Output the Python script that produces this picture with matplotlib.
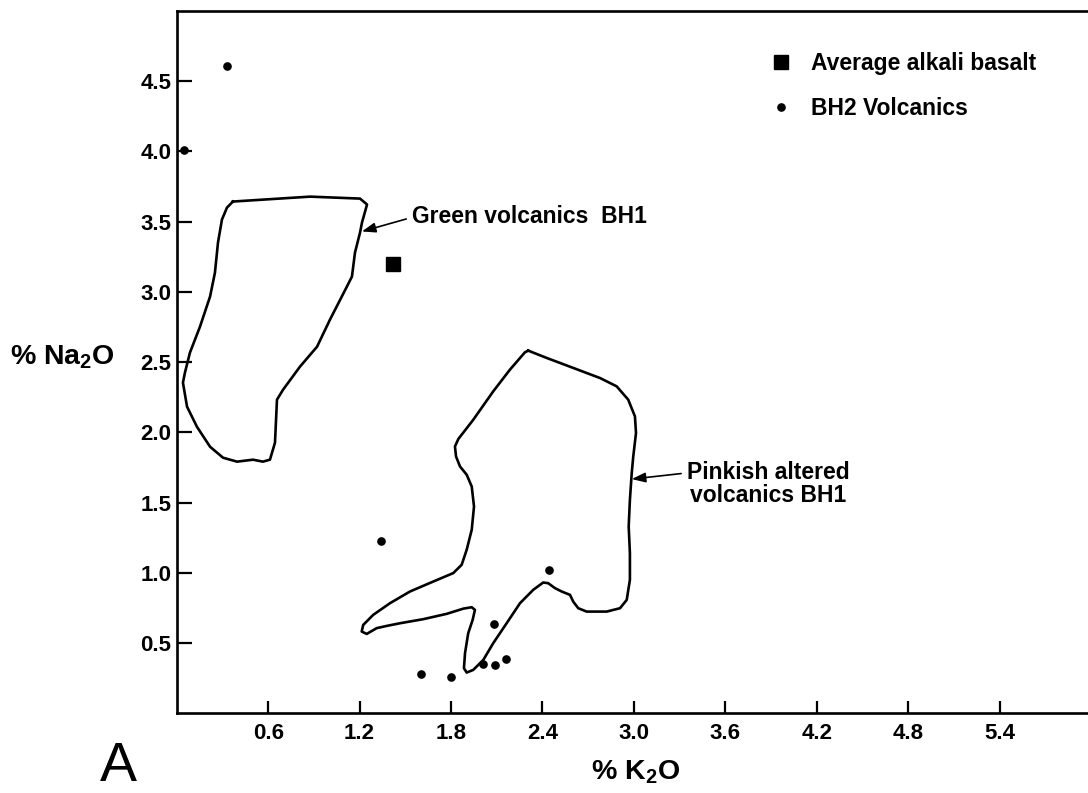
import matplotlib
matplotlib.use("Agg")
import matplotlib.pyplot as plt

plt.rcParams['font.family'] = ['Liberation Sans', 'DejaVu Sans']
plt.rcParams['mathtext.fontset'] = 'custom'
plt.rcParams['mathtext.rm'] = 'Liberation Sans:bold'
plt.rcParams['mathtext.bf'] = 'Liberation Sans:bold'

# data
# average alkali basalt
basalt_k2o = [1.42]
basalt_na2o = [3.20]

# BH2 volcanics
bh2_k2o = [0.33, 0.05, 1.34, 2.445, 2.08, 2.01, 2.09, 2.16, 1.60, 1.80]
bh2_na2o = [4.61, 4.01, 1.23, 1.02, 0.64, 0.35, 0.345, 0.385, 0.28, 0.26]

# outline of green volcanics BH1
green_k2o = [0.369, 0.875, 1.203, 1.249, 1.216, 1.203, 1.170, 1.150, 1.117, 1.006,
             0.921, 0.809, 0.698, 0.658, 0.652, 0.645, 0.612, 0.566, 0.501, 0.396,
             0.304, 0.219, 0.133, 0.068, 0.041, 0.054, 0.087, 0.153, 0.219, 0.251,
             0.271, 0.297, 0.330, 0.369]
green_na2o = [3.643, 3.678, 3.664, 3.622, 3.494, 3.422, 3.280, 3.109, 3.038, 2.803,
              2.610, 2.468, 2.304, 2.233, 2.091, 1.927, 1.806, 1.792, 1.806, 1.792,
              1.820, 1.898, 2.040, 2.183, 2.354, 2.425, 2.568, 2.753, 2.967, 3.137,
              3.351, 3.515, 3.600, 3.643]

# outline of pinkish altered volcanics BH1
pink_k2o = [2.307, 2.428, 2.602, 2.778, 2.887, 2.963, 3.007, 3.014, 2.996, 2.986,
            2.974, 2.966, 2.974, 2.974, 2.953, 2.909, 2.822, 2.690, 2.635, 2.602,
            2.581, 2.526, 2.482, 2.438, 2.405, 2.340, 2.253, 2.165, 2.077, 2.012,
            1.946, 1.903, 1.885, 1.892, 1.913, 1.942, 1.957, 1.936, 1.881, 1.772,
            1.618, 1.465, 1.378, 1.312, 1.247, 1.214, 1.224, 1.290, 1.400, 1.531,
            1.684, 1.815, 1.870, 1.903, 1.936, 1.951, 1.936, 1.903, 1.859, 1.833,
            1.826, 1.848, 1.946, 2.077, 2.187, 2.285, 2.307]
pink_na2o = [2.582, 2.530, 2.459, 2.387, 2.328, 2.233, 2.114, 1.996, 1.829, 1.711,
             1.521, 1.330, 1.141, 0.951, 0.808, 0.749, 0.725, 0.725, 0.749, 0.796,
             0.844, 0.868, 0.892, 0.927, 0.932, 0.880, 0.785, 0.642, 0.500, 0.381,
             0.310, 0.291, 0.322, 0.429, 0.571, 0.666, 0.737, 0.756, 0.746, 0.709,
             0.671, 0.642, 0.623, 0.607, 0.566, 0.583, 0.630, 0.702, 0.785, 0.868,
             0.939, 0.999, 1.058, 1.165, 1.307, 1.473, 1.615, 1.699, 1.758, 1.829,
             1.900, 1.953, 2.090, 2.292, 2.447, 2.570, 2.582]

x_ticks = [0.6, 1.2, 1.8, 2.4, 3.0, 3.6, 4.2, 4.8, 5.4]
y_ticks = [0.5, 1.0, 1.5, 2.0, 2.5, 3.0, 3.5, 4.0, 4.5]

fig = plt.figure(figsize=(10.88, 7.93), dpi=100)
ax = fig.add_axes([0.1624, 0.1003, 0.8376, 0.886])

# outlines
ax.plot(green_k2o, green_na2o, color='black', lw=1.9, solid_joinstyle='round')
ax.plot(pink_k2o, pink_na2o, color='black', lw=1.9, solid_joinstyle='round')

# points
ax.plot(basalt_k2o, basalt_na2o, 's', color='black', markersize=10.5,
        label='Average alkali basalt', clip_on=False)
ax.plot(bh2_k2o, bh2_na2o, 'o', color='black', markersize=5.2,
        label='BH2 Volcanics', clip_on=False)

# labels on the outlines
arrow = dict(arrowstyle='-|>,head_length=0.5,head_width=0.18',
             color='black', lw=1.2, shrinkA=2, shrinkB=0)
ax.annotate('Green volcanics  BH1', xy=(1.215, 3.43), xytext=(1.542, 3.538),
            ha='left', va='center', fontsize=16.5, fontweight='bold',
            arrowprops=dict(arrow, relpos=(0, 0.45)))
ax.annotate('Pinkish altered\nvolcanics BH1', xy=(2.986, 1.668), xytext=(3.88, 1.633),
            ha='center', va='center', multialignment='center', linespacing=1.0,
            fontsize=16.5, fontweight='bold',
            arrowprops=dict(arrow, relpos=(0, 0.74)))

ax.set_xlim(0, 5.98)
ax.set_ylim(0, 5.0)
ax.set_xticks(x_ticks)
ax.set_yticks(y_ticks)
ax.set_xticklabels([f'{t:.1f}' for t in x_ticks])
ax.set_yticklabels([f'{t:.1f}' for t in y_ticks])
ax.tick_params(direction='in', width=1.6, labelsize=16)
ax.tick_params(axis='x', length=9, pad=7)
ax.tick_params(axis='y', length=11, pad=4)
for lab in ax.get_xticklabels() + ax.get_yticklabels():
    lab.set_fontweight('bold')

for side in ['left', 'bottom', 'top']:
    ax.spines[side].set_linewidth(1.9)
ax.spines['right'].set_visible(False)

# axis titles
fig.text(10 / 1088, 1 - 357 / 793, r'% Na$_\mathbf{2}$O', ha='left', va='center',
         fontsize=20.5, fontweight='bold')
fig.text(636 / 1088, 1 - 772 / 793, r'% K$_\mathbf{2}$O', ha='center', va='center',
         fontsize=20.5, fontweight='bold')
fig.text(100 / 1088, 1 - 781 / 793, 'A', ha='left', va='baseline', fontsize=40)

# legend
ax.legend(loc='upper left', bbox_to_anchor=(770 / 1088, 1 - 52 / 793),
          bbox_transform=fig.transFigure, frameon=False, borderpad=0,
          borderaxespad=0, handlelength=1.0, handletextpad=0.81,
          labelspacing=0.97, prop={'size': 16.5, 'weight': 'bold'})

fig.savefig('out.png', dpi=100)
